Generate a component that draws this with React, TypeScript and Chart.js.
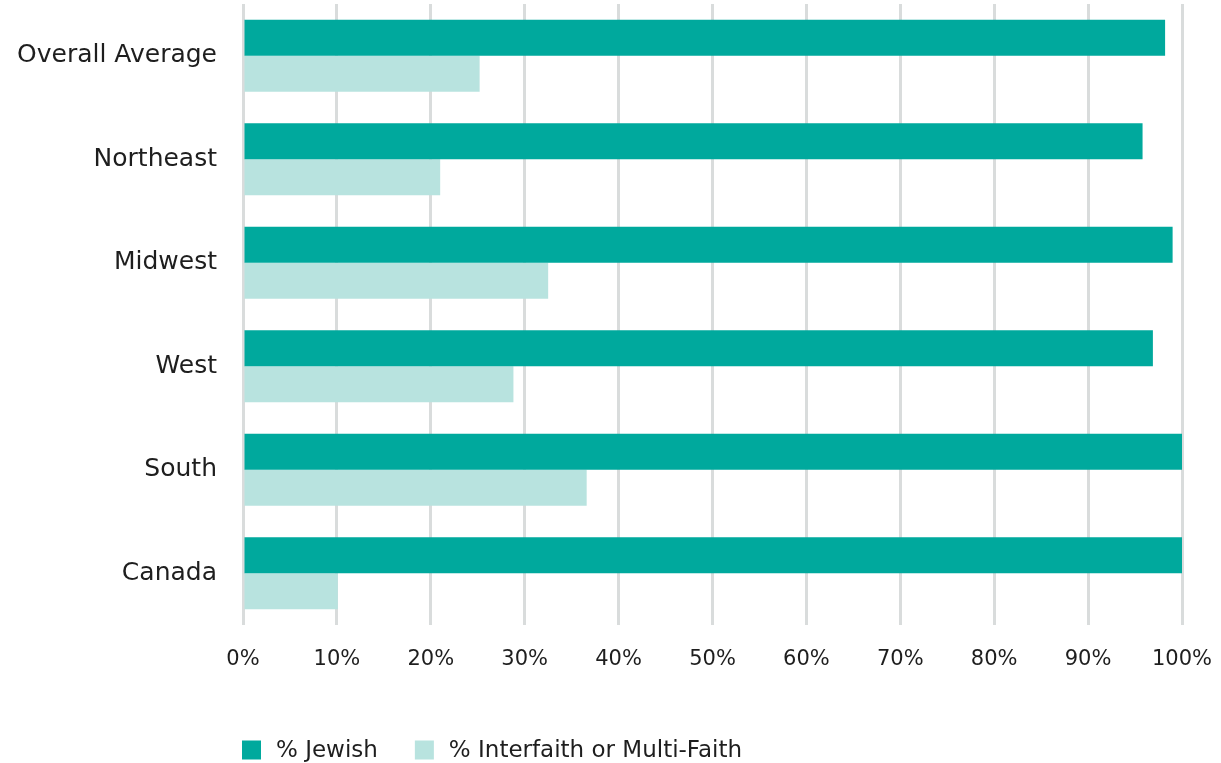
import React, { useEffect, useRef } from "react";
import { Chart, registerables } from "chart.js";

Chart.register(...registerables);

const categories = ["Overall Average", "Northeast", "Midwest", "West", "South", "Canada"];
const jewishValues = [98.2, 95.8, 99.0, 96.9, 100, 100];
const interfaithValues = [25.2, 21.0, 32.5, 28.8, 36.6, 10.1];
const seriesLabels = ["% Jewish", "% Interfaith or Multi-Faith"];
const seriesColors = ["#00a99d", "#b8e3df"];
const xTicks = [0, 10, 20, 30, 40, 50, 60, 70, 80, 90, 100];

const FONT = "'DejaVu Sans', sans-serif";
const TEXT = "#1e1e1e";

const legendPlugin = {
  id: "customLegend",
  afterDraw(chart: any) {
    const { ctx, chartArea } = chart;
    ctx.save();
    ctx.font = `23px ${FONT}`;
    ctx.textBaseline = "middle";
    ctx.textAlign = "left";
    const box = 19;
    const yc = 750;
    let x = chartArea.left - 1;
    chart.data.datasets.forEach((ds: any) => {
      ctx.fillStyle = ds.backgroundColor;
      ctx.fillRect(x, yc - box / 2, box, box);
      ctx.fillStyle = TEXT;
      const tx = x + box + 15;
      ctx.fillText(ds.label, tx, yc + 1);
      x = tx + ctx.measureText(ds.label).width + 37;
    });
    ctx.restore();
  },
};

const zeroPadding = (scale: any) => {
  scale.paddingTop = 0;
  scale.paddingBottom = 0;
  scale.paddingLeft = 0;
  scale.paddingRight = 0;
};

export default function App() {
  const ref = useRef<HTMLCanvasElement | null>(null);
  useEffect(() => {
    if (!ref.current) return;
    const chart = new Chart(ref.current, {
      type: "bar",
      data: {
        labels: categories,
        datasets: [
          { label: seriesLabels[0], data: jewishValues, backgroundColor: seriesColors[0] },
          { label: seriesLabels[1], data: interfaithValues, backgroundColor: seriesColors[1] },
        ],
      },
      options: {
        indexAxis: "y",
        animation: false,
        responsive: false,
        maintainAspectRatio: false,
        datasets: { bar: { barPercentage: 1, categoryPercentage: 0.696 } },
        layout: { padding: { top: 4, right: 39, bottom: 88, left: 0 } },
        plugins: { legend: { display: false }, tooltip: { enabled: false } },
        scales: {
          x: {
            min: 0,
            max: 100,
            afterBuildTicks: (scale: any) => {
              scale.ticks = xTicks.map((v) => ({ value: v }));
            },
            afterFit: (scale: any) => {
              scale.height = 50;
              zeroPadding(scale);
            },
            grid: { color: "#d9dcdc", lineWidth: 3, drawTicks: false },
            border: { display: false },
            ticks: {
              padding: 22,
              color: TEXT,
              font: { family: FONT, size: 21 },
              callback: (v: any) => `${v}%`,
              maxRotation: 0,
            },
          },
          y: {
            afterFit: (scale: any) => {
              scale.width = 243;
              zeroPadding(scale);
            },
            grid: { display: false, drawTicks: false },
            border: { display: false },
            ticks: {
              padding: 26,
              color: TEXT,
              font: { family: FONT, size: 25 },
            },
          },
        },
      },
      plugins: [legendPlugin],
    });
    return () => chart.destroy();
  }, []);
  return (
    <div style={{ position: "fixed", left: 0, top: 0, width: 1221, height: 763, background: "#fff" }}>
      <canvas ref={ref} width={1221} height={763} style={{ width: 1221, height: 763, display: "block" }} />
    </div>
  );
}
